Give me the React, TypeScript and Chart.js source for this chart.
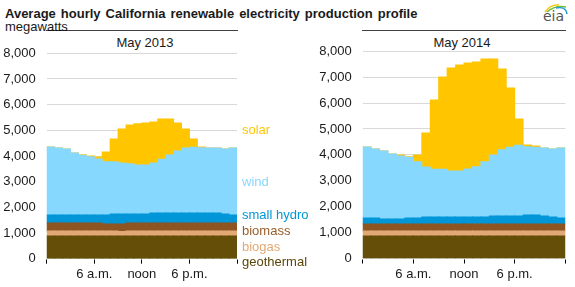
import React, { useEffect, useRef } from 'react';
import { Chart, registerables } from 'chart.js';
Chart.register(...registerables);

// ---------- data ----------
const hours = [0, 1, 2, 3, 4, 5, 6, 7, 8, 9, 10, 11, 12, 13, 14, 15, 16, 17, 18, 19, 20, 21, 22, 23];
const xTickValues = [0, 6, 12, 18, 24];
const xTickLabels = ['', '6 a.m.', 'noon', '6 p.m.', ''];
const yTickValues = [0, 1000, 2000, 3000, 4000, 5000, 6000, 7000, 8000];
const yTickLabels = ['0', '1,000', '2,000', '3,000', '4,000', '5,000', '6,000', '7,000', '8,000'];

const seriesNames = ['geothermal', 'biogas', 'biomass', 'small hydro', 'wind', 'solar'];

const geothermal2013 = [880, 880, 880, 880, 880, 880, 880, 880, 880, 880, 880, 880, 880, 880, 880, 880, 880, 880, 880, 880, 880, 880, 880, 880];
const biogas2013 = [200, 200, 200, 200, 200, 200, 200, 200, 200, 175, 200, 200, 200, 200, 200, 200, 200, 200, 200, 200, 200, 200, 200, 200];
const biomass2013 = [310, 310, 310, 310, 310, 310, 310, 270, 270, 295, 310, 310, 310, 310, 310, 310, 310, 310, 310, 310, 310, 310, 310, 310];
const smallHydro2013 = [310, 310, 310, 310, 310, 310, 310, 350, 390, 390, 350, 350, 350, 390, 390, 390, 390, 390, 390, 390, 390, 390, 350, 310];
const wind2013 = [2650, 2610, 2570, 2420, 2330, 2275, 2185, 2080, 2040, 1990, 1960, 1910, 1910, 1950, 2090, 2260, 2415, 2530, 2560, 2545, 2530, 2530, 2535, 2610];
const solar2013 = [0, 0, 0, 0, 20, 25, 75, 375, 880, 1320, 1510, 1610, 1635, 1595, 1570, 1400, 1090, 740, 320, 25, 0, 0, 0, 0];

const geothermal2014 = [870, 870, 870, 870, 870, 870, 870, 870, 870, 870, 870, 870, 870, 870, 870, 870, 870, 870, 870, 870, 870, 870, 870, 870];
const biogas2014 = [190, 190, 190, 190, 190, 190, 190, 190, 190, 190, 190, 190, 190, 190, 190, 190, 190, 190, 190, 190, 190, 190, 190, 190];
const biomass2014 = [270, 270, 270, 270, 270, 270, 270, 270, 270, 270, 270, 270, 270, 270, 270, 270, 270, 270, 270, 270, 270, 270, 270, 270];
const smallHydro2014 = [235, 235, 195, 195, 195, 235, 235, 270, 270, 270, 270, 270, 270, 270, 270, 310, 310, 310, 310, 350, 350, 310, 270, 235];
const wind2014 = [2740, 2665, 2625, 2510, 2435, 2340, 2170, 1935, 1845, 1845, 1780, 1780, 1855, 1945, 2135, 2355, 2555, 2660, 2735, 2635, 2615, 2625, 2630, 2700];
const solar2014 = [0, 0, 0, 0, 35, 25, 260, 1310, 2675, 3565, 3975, 4090, 4095, 4045, 3965, 3705, 3125, 2285, 1010, 65, 50, 0, 0, 0];

const fillColors = ['#654f08', '#e3a975', '#8c5522', '#0096d7', '#87d8fe', '#ffc600'];
const labelColors = ['#5a4608', '#e3a975', '#9a5d28', '#0096d7', '#87d8fe', '#ffc600'];

const FONT = '"Liberation Sans", Arial, sans-serif';
const TEXT = '#1a1a1a';

type PanelProps = {
  series: number[][];
  left: number;
  top: number;
  width: number;
  height: number;
  yAxisWidth: number;
  xAxisHeight: number;
  padTop: number;
  padRight: number;
};

function Panel(props: PanelProps) {
  const ref = useRef<HTMLCanvasElement | null>(null);
  useEffect(() => {
    if (!ref.current) return;
    const datasets = props.series.map((vals, k) => ({
      label: seriesNames[k],
      data: hours.map((h, i) => ({ x: h + 0.5, y: vals[i] })),
      backgroundColor: fillColors[k],
      borderWidth: 0,
      barPercentage: 1,
      categoryPercentage: 1,
      inflateAmount: 0.5,
    }));
    const chart = new Chart(ref.current, {
      type: 'bar',
      data: { datasets },
      options: {
        responsive: false,
        animation: false,
        devicePixelRatio: 1,
        layout: { padding: { top: props.padTop, right: props.padRight, left: 0, bottom: 0 } },
        plugins: { legend: { display: false }, tooltip: { enabled: false }, title: { display: false } },
        scales: {
          x: {
            type: 'linear',
            min: 0,
            max: 24,
            offset: false,
            stacked: true,
            afterBuildTicks: (s: any) => {
              s.ticks = xTickValues.map((v) => ({ value: v }));
            },
            afterFit: (s: any) => {
              s.height = props.xAxisHeight;
            },
            ticks: {
              autoSkip: false,
              maxRotation: 0,
              padding: 3,
              color: TEXT,
              font: { family: FONT, size: 13 },
              callback: (v: any) => {
                const idx = xTickValues.indexOf(Number(v));
                return idx >= 0 ? xTickLabels[idx] : '';
              },
            },
            grid: { offset: false, drawOnChartArea: false, drawTicks: true, tickLength: 5, color: '#000', lineWidth: 1, z: 1 },
            border: { display: true, color: '#000', width: 1.5 },
          },
          y: {
            min: 0,
            max: 8000,
            stacked: true,
            afterBuildTicks: (s: any) => {
              s.ticks = yTickValues.map((v) => ({ value: v }));
            },
            afterFit: (s: any) => {
              s.width = props.yAxisWidth;
            },
            ticks: {
              padding: 11,
              color: TEXT,
              font: { family: FONT, size: 13 },
              callback: (v: any) => {
                const idx = yTickValues.indexOf(Number(v));
                return idx >= 0 ? yTickLabels[idx] : '';
              },
            },
            grid: { color: '#d9d9d9', drawTicks: false, lineWidth: 1 },
            border: { display: false },
          },
        },
      },
    } as any);
    return () => chart.destroy();
  }, []);
  return (
    <canvas
      ref={ref}
      width={props.width}
      height={props.height}
      style={{ position: 'absolute', left: props.left, top: props.top, width: props.width, height: props.height }}
    />
  );
}

const legendTops = [255, 240, 224, 208, 175, 123];

export default function App() {
  useEffect(() => {
    document.body.style.margin = '0';
  }, []);
  const text = (s: string, style: React.CSSProperties, key?: string) => (
    <div key={key} style={{ position: 'absolute', whiteSpace: 'nowrap', fontFamily: FONT, fontSize: 13, lineHeight: '13px', color: TEXT, ...style }}>
      {s}
    </div>
  );
  return (
    <div style={{ position: 'absolute', left: 0, top: 0, width: 575, height: 287, background: '#fff', overflow: 'hidden' }}>
      {text('Average hourly California renewable electricity production profile', { left: 5, top: 7, fontWeight: 'bold', wordSpacing: '1.4px' })}
      {text('megawatts', { left: 5, top: 20 })}
      {text('May 2013', { left: 95, top: 36, width: 100, textAlign: 'center' })}
      {text('May 2014', { left: 412, top: 36, width: 100, textAlign: 'center' })}
      <Panel
        series={[geothermal2013, biogas2013, biomass2013, smallHydro2013, wind2013, solar2013]}
        left={0}
        top={30}
        width={240}
        height={257}
        yAxisWidth={46.7}
        xAxisHeight={28.3}
        padTop={23.3}
        padRight={3}
      />
      <Panel
        series={[geothermal2014, biogas2014, biomass2014, smallHydro2014, wind2014, solar2014]}
        left={300}
        top={30}
        width={270}
        height={257}
        yAxisWidth={62.7}
        xAxisHeight={28.5}
        padTop={21.3}
        padRight={4.7}
      />
      {seriesNames.map((n, k) => text(n, { left: 242, top: legendTops[k], color: labelColors[k] }, n))}
      <svg width={30} height={16} style={{ position: 'absolute', left: 541, top: 2 }}>
        <path d="M4 10 Q10 2 18 3" stroke="#f5c400" strokeWidth={1.4} fill="none" />
        <path d="M6 10 Q14 3 25 5" stroke="#6cbf3a" strokeWidth={1.4} fill="none" />
        <path d="M15 6 Q25 4 26 12" stroke="#1f9ad6" strokeWidth={1.4} fill="none" />
      </svg>
      {text('eia', { left: 543, top: 10, fontFamily: '"DejaVu Sans", sans-serif', fontSize: 14, color: '#555' })}
    </div>
  );
}
